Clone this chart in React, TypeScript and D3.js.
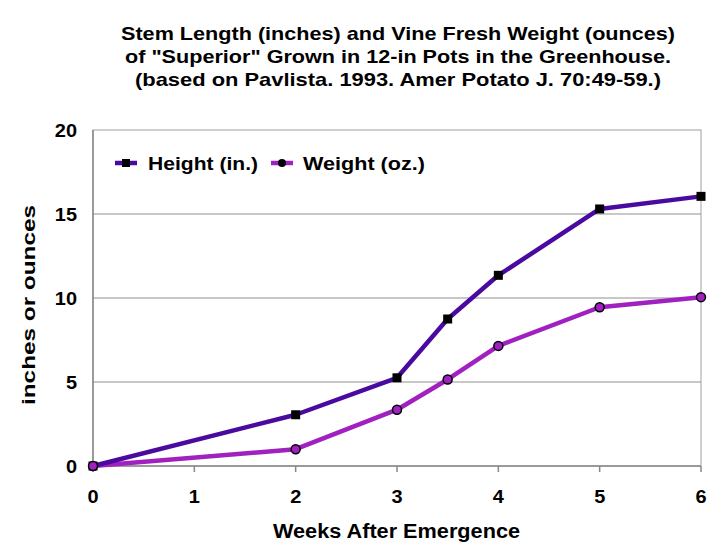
import React from "react";
import * as d3 from "d3";

const weeks = [0, 2, 3, 3.5, 4, 5, 6];
const heightIn = [0, 3.05, 5.25, 8.75, 11.35, 15.3, 16.05];
const weightOz = [0, 1.0, 3.35, 5.15, 7.15, 9.45, 10.05];
const xTicks = [0, 1, 2, 3, 4, 5, 6];
const yTicks = [0, 5, 10, 15, 20];
const titleLines = [
  "Stem Length (inches) and Vine Fresh Weight (ounces)",
  "of \"Superior\" Grown in 12-in Pots in the Greenhouse.",
  "(based on Pavlista. 1993. Amer Potato J. 70:49-59.)",
];
const titleWidths = [554, 546, 526];
const seriesNames = ["Height (in.)", "Weight (oz.)"];

const W = 720, H = 556;
const left = 93, right = 701, top = 130, bottom = 466;
const font = "Liberation Sans, Arial, sans-serif";
const cH = "#4a0aa0";
const cW = "#a020c0";

function ScaledText({ x, y, anchor = "start", sx = 1.05, size = 19, children }: any) {
  return (
    <g transform={`translate(${x},${y}) scale(${sx},1)`}>
      <text x={0} y={0} textAnchor={anchor} fontSize={size} fontWeight="bold" fill="#000">{children}</text>
    </g>
  );
}

export default function App() {
  const x = d3.scaleLinear().domain([0, 6]).range([left, right]);
  const y = d3.scaleLinear().domain([0, 20]).range([bottom, top]);
  const line = d3.line<number>().x((_, i) => x(weeks[i])).y((d) => y(d));
  return (
    <svg width={W} height={H} style={{ position: "absolute", left: 0, top: 0 }} fontFamily={font}>
      <rect width={W} height={H} fill="#fff" />
      {titleLines.map((t, i) => (
        <text key={i} x={398} y={40 + i * 23} textAnchor="middle" fontSize={19} fontWeight="bold" fill="#000"
          textLength={titleWidths[i]} lengthAdjust="spacingAndGlyphs">{t}</text>
      ))}
      {yTicks.filter((v) => v > 0 && v < 20).map((v) => (
        <line key={v} x1={left} x2={right} y1={y(v)} y2={y(v)} stroke="#909090" strokeWidth={1} />
      ))}
      <rect x={left} y={top} width={right - left} height={bottom - top} fill="none" stroke="#a0a0a0" strokeWidth={1} />
      <line x1={left} x2={left} y1={top} y2={bottom} stroke="#888" strokeWidth={1.5} />
      <line x1={left} x2={right} y1={bottom} y2={bottom} stroke="#888" strokeWidth={1.5} />
      {xTicks.map((v) => (
        <g key={v}>
          <line x1={x(v)} x2={x(v)} y1={bottom} y2={bottom + 6} stroke="#888" strokeWidth={1.5} />
          <ScaledText x={x(v)} y={503} anchor="middle">{v}</ScaledText>
        </g>
      ))}
      {yTicks.map((v) => (
        <ScaledText key={v} x={77} y={y(v) + 7} anchor="end">{v}</ScaledText>
      ))}
      <text transform={`translate(35,305) rotate(-90)`} textAnchor="middle" fontSize={19} fontWeight="bold"
        textLength={200} lengthAdjust="spacingAndGlyphs">inches or ounces</text>
      <text x={396.5} y={538} textAnchor="middle" fontSize={19.5} fontWeight="bold"
        textLength={247} lengthAdjust="spacingAndGlyphs">Weeks After Emergence</text>
      <path d={line(weightOz) || ""} fill="none" stroke={cW} strokeWidth={4.5} strokeLinejoin="round" />
      <path d={line(heightIn) || ""} fill="none" stroke={cH} strokeWidth={4.5} strokeLinejoin="round" />
      {heightIn.map((v, i) => (
        <rect key={i} x={x(weeks[i]) - 4.5} y={y(v) - 4.5} width={9} height={9} fill="#000" />
      ))}
      {weightOz.map((v, i) => (
        <circle key={i} cx={x(weeks[i])} cy={y(v)} r={4.5} fill={cW} stroke="#000" strokeWidth={1.5} />
      ))}
      <g>
        <line x1={115} x2={137} y1={163} y2={163} stroke={cH} strokeWidth={4.5} />
        <rect x={122} y={159} width={8} height={8} fill="#000" />
        <text x={148} y={170} fontSize={19} fontWeight="bold" textLength={110} lengthAdjust="spacingAndGlyphs">{seriesNames[0]}</text>
        <line x1={271} x2={293} y1={163} y2={163} stroke={cW} strokeWidth={4.5} />
        <circle cx={282} cy={163} r={4} fill="#000" />
        <text x={303} y={170} fontSize={19} fontWeight="bold" textLength={122} lengthAdjust="spacingAndGlyphs">{seriesNames[1]}</text>
      </g>
    </svg>
  );
}
